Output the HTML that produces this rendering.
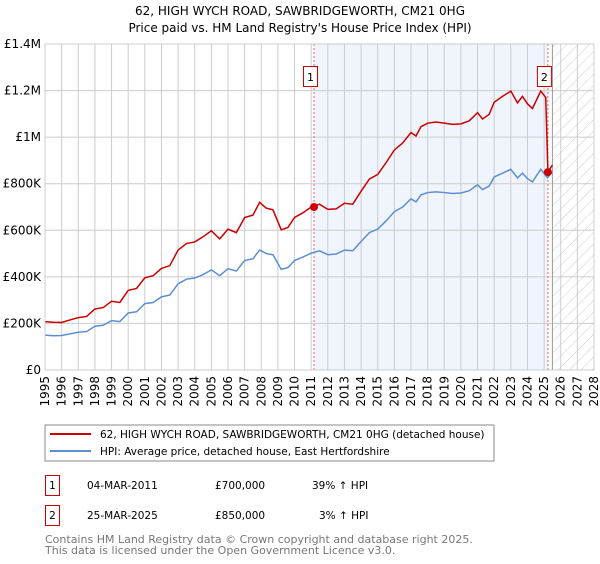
<!DOCTYPE html>
<html><head><meta charset="utf-8"><style>
body{margin:0;background:#fff;width:600px;height:560px;overflow:hidden;font-family:"DejaVu Sans","Liberation Sans",sans-serif}
svg text{font-family:"DejaVu Sans","Liberation Sans",sans-serif}
</style></head><body>
<svg id="c" width="600" height="560" xmlns="http://www.w3.org/2000/svg">
<defs><pattern id="hatch" width="8" height="8" patternUnits="userSpaceOnUse" patternTransform="rotate(45)"><line x1="0" y1="0" x2="0" y2="8" stroke="#ccc" stroke-width="1"/></pattern></defs>
<text x="300" y="15" text-anchor="middle" font-size="12">62, HIGH WYCH ROAD, SAWBRIDGEWORTH, CM21 0HG</text>
<text x="300" y="32" text-anchor="middle" font-size="12">Price paid vs. HM Land Registry's House Price Index (HPI)</text>
<g id="plot"></g>
<rect x="45" y="425" width="449" height="36" fill="none" stroke="#888"/>
<line x1="50" y1="434" x2="91" y2="434" stroke="#cc0000" stroke-width="2"/>
<text x="100" y="438" font-size="10.5">62, HIGH WYCH ROAD, SAWBRIDGEWORTH, CM21 0HG (detached house)</text>
<line x1="50" y1="451" x2="91" y2="451" stroke="#5b8fd4" stroke-width="2"/>
<text x="100" y="455" font-size="10.5">HPI: Average price, detached house, East Hertfordshire</text>
<g font-size="10.5">
<rect x="45.5" y="475.5" width="14" height="20" fill="#fff" stroke="#cc0000"/><text x="52.5" y="489" text-anchor="middle">1</text>
<text x="87" y="489">04-MAR-2011</text><text x="215" y="489">£700,000</text><text x="312" y="489">39% ↑ HPI</text></g>
<g font-size="10.5">
<rect x="45.5" y="505.5" width="14" height="20" fill="#fff" stroke="#cc0000"/><text x="52.5" y="519" text-anchor="middle">2</text>
<text x="87" y="519">25-MAR-2025</text><text x="215" y="519">£850,000</text><text x="319" y="519">3% ↑ HPI</text></g>
<text x="45" y="543" font-size="11" fill="#777">Contains HM Land Registry data © Crown copyright and database right 2025.</text>
<text x="45" y="554" font-size="11" fill="#777">This data is licensed under the Open Government Licence v3.0.</text>
</svg>
<script>
const yearTicks=[1995,1996,1997,1998,1999,2000,2001,2002,2003,2004,2005,2006,2007,2008,2009,2010,2011,2012,2013,2014,2015,2016,2017,2018,2019,2020,2021,2022,2023,2024,2025,2026,2027,2028];
const priceTicks=[0,200000,400000,600000,800000,1000000,1200000,1400000];
const priceLabels=["£0","£200K","£400K","£600K","£800K","£1M","£1.2M","£1.4M"];
const hpiYears=[1995,1995.5,1996,1996.5,1997,1997.5,1998,1998.5,1999,1999.5,2000,2000.5,2001,2001.5,2002,2002.5,2003,2003.5,2004,2004.5,2005,2005.5,2006,2006.5,2007,2007.5,2007.9,2008.3,2008.7,2009.2,2009.6,2010,2010.5,2011,2011.5,2012,2012.5,2013,2013.5,2014,2014.5,2015,2015.5,2016,2016.5,2017,2017.3,2017.6,2018,2018.5,2019,2019.5,2020,2020.5,2021,2021.3,2021.7,2022,2022.5,2023,2023.4,2023.7,2024,2024.3,2024.8,2025.2,2025.5];
const hpiValues=[150000,147000,148000,155000,162000,165000,188000,192000,212000,208000,245000,250000,285000,290000,314000,322000,370000,390000,395000,410000,430000,405000,435000,425000,470000,478000,515000,500000,495000,432000,440000,470000,485000,502000,512000,495000,498000,515000,512000,552000,590000,605000,640000,680000,700000,735000,722000,752000,762000,765000,762000,758000,760000,770000,795000,775000,790000,829000,845000,862000,825000,845000,822000,808000,862000,826000,850000];
const propYears=[1995,1995.5,1996,1996.5,1997,1997.5,1998,1998.5,1999,1999.5,2000,2000.5,2001,2001.5,2002,2002.5,2003,2003.5,2004,2004.5,2005,2005.5,2006,2006.5,2007,2007.5,2007.9,2008.3,2008.7,2009.2,2009.6,2010,2010.5,2011,2011.5,2012,2012.5,2013,2013.5,2014,2014.5,2015,2015.5,2016,2016.5,2017,2017.3,2017.6,2018,2018.5,2019,2019.5,2020,2020.5,2021,2021.3,2021.7,2022,2022.5,2023,2023.4,2023.7,2024,2024.3,2024.8,2025.1,2025.23,2025.5];
const propValues=[208000,205000,204000,215000,225000,230000,262000,268000,295000,290000,342000,350000,396000,405000,436000,448000,515000,543000,550000,572000,598000,563000,605000,590000,655000,665000,720000,695000,688000,602000,612000,655000,675000,700000,712000,690000,692000,716000,712000,768000,820000,840000,890000,945000,975000,1020000,1005000,1045000,1060000,1065000,1060000,1055000,1057000,1070000,1105000,1078000,1098000,1150000,1175000,1198000,1147000,1175000,1143000,1123000,1198000,1170000,850000,880000];
const saleYears=[2011.17,2025.23];
const saleValues=[700000,850000];

const X0=45,X1=594,Y0=370,Y1=44;
const xs=y=>X0+(y-1995)/(2028-1995)*(X1-X0);
const ys=v=>Y0-v/1400000*(Y0-Y1);
const NS="http://www.w3.org/2000/svg";
const g=document.getElementById('plot');
function mk(t,a){const e=document.createElementNS(NS,t);for(const k in a)e.setAttribute(k,a[k]);g.appendChild(e);return e;}
let e;
e=mk('rect',{x:xs(saleYears[0]),y:Y1,width:xs(saleYears[1])-xs(saleYears[0]),height:Y0-Y1,fill:'#f0f4fc'});


e=mk('rect',{x:xs(2025.5),y:Y1,width:X1-xs(2025.5),height:Y0-Y1,fill:'url(#hatch)'});


yearTicks.forEach((yr,i)=>{
 e=mk('line',{x1:xs(yr),x2:xs(yr),y1:Y1,y2:Y0,stroke:'#ccc','stroke-width':1});
 
 
 e=mk('text',{x:0,y:0,'font-size':12,'text-anchor':'end',transform:`translate(${xs(yr)+4},${Y0+6}) rotate(-90)`});
 e.textContent=yr;
 
 
});
priceTicks.forEach((v,i)=>{
 e=mk('line',{x1:X0,x2:X1,y1:ys(v),y2:ys(v),stroke:'#ccc','stroke-width':1});
 
 
 e=mk('text',{x:X0-4,y:ys(v)+4,'font-size':12,'text-anchor':'end'});
 e.textContent=priceLabels[i];
 
 
});
e=mk('line',{x1:xs(2025.5),x2:xs(2025.5),y1:Y1,y2:Y0,stroke:'#999'});


saleYears.forEach((yr,i)=>{
 e=mk('line',{x1:xs(yr),x2:xs(yr),y1:Y1,y2:Y0,stroke:'#e66','stroke-dasharray':'2,2'});
 
 
 e=mk('rect',{x:xs(yr)-10.5,y:66.5,width:14,height:20,fill:'#fff',stroke:'#cc0000'});
 
 
 e=mk('text',{x:xs(yr)-3.5,y:81,'font-size':11,'text-anchor':'middle'});
 e.textContent=String(i+1);
 
 
});
e=mk('polyline',{points:hpiYears.map((y,i)=>xs(y)+','+ys(hpiValues[i])).join(' '),fill:'none',stroke:'#5b8fd4','stroke-width':1.5});


e=mk('polyline',{points:propYears.map((y,i)=>xs(y)+','+ys(propValues[i])).join(' '),fill:'none',stroke:'#cc0000','stroke-width':1.5});


saleYears.forEach((yr,i)=>{
 e=mk('circle',{cx:xs(yr),cy:ys(saleValues[i]),r:4,fill:'#cc0000'});
 
 
});
e=mk('rect',{x:X0,y:Y1,width:X1-X0,height:Y0-Y1,fill:'none',stroke:'#ccc'});


</script>
</body></html>
